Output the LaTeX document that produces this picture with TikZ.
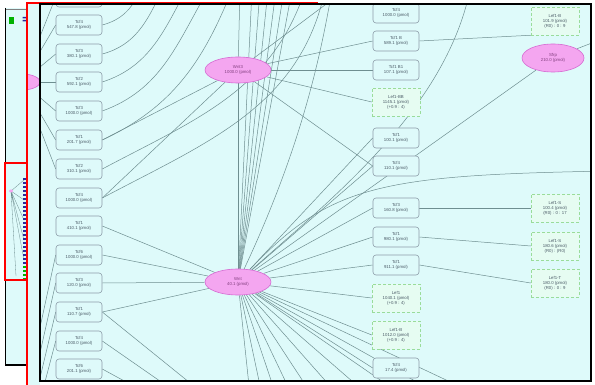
\documentclass[tikz,border=0pt]{standalone}
\usepackage{fontspec}
\setmainfont{Liberation Sans}
\usetikzlibrary{shapes.geometric}
\definecolor{bgc}{HTML}{DEFAFA}
\definecolor{boxc}{HTML}{8C9CA8}
\definecolor{edgec}{HTML}{6E8E90}
\definecolor{pinkf}{HTML}{F4A6F0}
\definecolor{pinkd}{HTML}{D66AD2}
\definecolor{grnd}{HTML}{9ADC9A}
\definecolor{grnf}{HTML}{E6FCF2}
\definecolor{txtc}{HTML}{4A5A66}
\definecolor{mapb}{HTML}{2A2A9A}
\pgfdeclarelayer{bg}
\pgfsetlayers{bg,main}
\begin{document}
\begin{tikzpicture}[x=1pt,y=-1pt,
 tbox/.style={draw=boxc, fill=bgc, rounded corners=3pt, minimum width=46pt, minimum height=20pt, inner sep=0.5pt, align=center, font=\fontsize{4.3}{4.9}\selectfont, text=txtc, line width=0.6pt},
 gbox/.style={draw=grnd, fill=grnf, densely dashed, minimum width=48pt, minimum height=28pt, inner sep=0.5pt, align=center, font=\fontsize{4.3}{4.9}\selectfont, text=txtc, line width=0.5pt},
 ell/.style={ellipse, draw=pinkd, fill=pinkf, minimum width=66pt, minimum height=26pt, inner sep=0pt, align=center, font=\fontsize{4.3}{4.9}\selectfont, text=pinkd!60!black, line width=0.6pt},
 lnk/.style={draw=edgec, line width=0.5pt}]
\useasboundingbox (0,0) rectangle (595,385);
% ---------- nodes (clipped to the main view)
\begin{scope}
\clip (40,4) rectangle (591,381);
\node[tbox] (L0) at (79,-3) {};
\node[tbox] (L1) at (79,25) {Tcf4\\547.8 (pmol)};
\node[tbox] (L2) at (79,54) {Tcf3\\380.1 (pmol)};
\node[tbox] (L3) at (79,82) {Tcf2\\592.1 (pmol)};
\node[tbox] (L4) at (79,111) {Tcf3\\1000.0 (pmol)};
\node[tbox] (L5) at (79,140) {Tcf1\\201.7 (pmol)};
\node[tbox] (L6) at (79,169) {Tcf2\\310.1 (pmol)};
\node[tbox] (L7) at (79,198) {Tcf4\\1000.0 (pmol)};
\node[tbox] (L8) at (79,226) {Tcf1\\410.1 (pmol)};
\node[tbox] (L9) at (79,255) {Tcf6\\1000.0 (pmol)};
\node[tbox] (L10) at (79,283) {Tcf3\\120.0 (pmol)};
\node[tbox] (L11) at (79,312) {Tcf1\\110.7 (pmol)};
\node[tbox] (L12) at (79,341) {Tcf4\\1000.0 (pmol)};
\node[tbox] (L13) at (79,369) {Tcf6\\201.1 (pmol)};
\node[ell] (E1) at (238,70) {Wnt3\\1000.0 (pmol)};
\node[ell] (E2) at (238,282) {Wnt\\40.1 (pmol)};
\node[ell, minimum width=62pt, minimum height=28pt] (E3) at (553,58) {Sfrp\\210.0 (pmol)};
\node[tbox] (M0) at (396,13) {Tcf4\\1000.0 (pmol)};
\node[tbox] (M1) at (396,41) {Tcf1 B\\589.1 (pmol)};
\node[tbox] (M2) at (396,70) {Tcf1 B1\\107.1 (pmol)};
\node[gbox] (M3) at (396,102) {Lef1-BB\\1145.1 (pmol)\\(+0.9 : 4)};
\node[tbox] (M4) at (396,138) {Tcf1\\100.1 (pmol)};
\node[tbox] (M5) at (396,166) {Tcf4\\110.1 (pmol)};
\node[tbox] (M6) at (396,208) {Tcf3\\160.8 (pmol)};
\node[tbox] (M7) at (396,237) {Tcf1\\980.1 (pmol)};
\node[tbox] (M8) at (396,265) {Tcf1\\911.1 (pmol)};
\node[gbox] (M9) at (396,298) {Lef1\\1040.1 (pmol)\\(+0.9 : 4)};
\node[gbox] (M10) at (396,335) {Lef1-B\\1012.0 (pmol)\\(+0.9 : 4)};
\node[tbox] (M11) at (396,368) {Tcf4\\17.4 (pmol)};
\node[gbox] (G0) at (555,21) {Lef1-B\\101.9 (pmol)\\(R0) : 0 : 9};
\node[gbox] (G1) at (555,208) {Lef1-S\\100.4 (pmol)\\(R0) : 0 : 17};
\node[gbox] (G2) at (555,246) {Lef1-S\\180.6 (pmol)\\(R0) : (R0)};
\node[gbox] (G3) at (555,283) {Lef1-T\\180.0 (pmol)\\(R0) : 0 : 9};
\end{scope}
% ---------- background and connectors
\begin{pgfonlayer}{bg}
\fill[white] (0,0) rectangle (595,385);
\fill[bgc] (6,8) rectangle (27,365);
\fill[bgc] (27,3) rectangle (40,385);
\fill[bgc] (40,4) rectangle (591,381);
\begin{scope}
\clip (40,4) rectangle (591,381);
\coordinate (pinkL) at (22,82);
% arcs from the upper left boxes towards the top
\draw[lnk] (L0.east) to[out=10,in=-110] (118,-10);
\draw[lnk] (L1.east) to[out=15,in=-112] (140,-10);
\draw[lnk] (L2.east) to[out=15,in=-115] (162,-10);
\draw[lnk] (L3.east) to[out=18,in=-118] (186,-10);
\draw[lnk] (L4.east) to[out=20,in=-120] (208,-10);
\draw[lnk] (L5.east) to[out=25,in=-112] (232,-10);
\draw[lnk] (L6.east) to[out=28,in=-108] (305,-10);
\draw[lnk] (L7.east) to[out=28,in=-102] (325,-10);
% left side links to the off-view node
\foreach \n in {L0,L1,L2,L3,L4,L5,L6} \draw[lnk] (\n.west) -- (pinkL);
\draw[lnk] (L9.west) -- (20,420);
\draw[lnk] (L10.west) -- (25,420);
\draw[lnk] (L11.west) -- (30,420);
\draw[lnk] (L12.west) -- (35,420);
% lower left boxes down-right
\draw[lnk] (L11.east) -- (205,395);
\draw[lnk] (L12.east) -- (180,395);
\draw[lnk] (L13.east) -- (150,395);
% E1
\draw[lnk] (E1) -- (M1.west);
\draw[lnk] (E1) -- (M2.west);
\draw[lnk] (E1) -- (M3.west);
\draw[lnk] (E1) -- (240,-10);
\draw[lnk] (E1) -- (345,-10);
\draw[lnk] (E1) -- (M5.west);
\draw[lnk] (E1) -- (L5.east);
\draw[lnk] (E1) -- (L7.east);
\draw[lnk] (E1) -- (E2);
% E2 to left
\foreach \n in {L8,L9,L10,L11} \draw[lnk] (E2) -- (\n.east);
% E2 to middle column
\foreach \n in {M4,M5,M6,M7,M8,M9,M10,M11} \draw[lnk] (E2) -- (\n.west);
% E2 down to below the view
\foreach \x in {250,262,276,292,312,338,368,402,440,478} \draw[lnk] (E2) -- (\x,395);
% E2 up to above the view
\foreach \x in {252,260,268,276,284,292} \draw[lnk] (E2) -- (\x,-10);
\draw[lnk] (E2) .. controls (300,150) and (320,60) .. (332,-10);
\draw[lnk] (E2) .. controls (330,200) and (445,110) .. (470,-10);
\draw[lnk] (E2) .. controls (330,185) and (380,175) .. (610,171);
% E3
\draw[lnk] (E3) -- (E2);
\draw[lnk] (E3) -- (610,36);
% middle to right
\draw[lnk] (M1.east) -- (G0.south west);
\draw[lnk] (M6.east) -- (G1.west);
\draw[lnk] (M7.east) -- (G2.west);
\draw[lnk] (M8.east) -- (G3.west);
\end{scope}
% minimap contents
\draw[lnk, line width=0.3pt] (11,191) -- (24,180) (11,191) -- (24,200) (11,191) -- (24,220) (11,191) -- (24,240) (11,191) -- (24,260) (11,191) -- (16,276);
\end{pgfonlayer}
% partial off-view node at the left
\begin{scope}
\clip (27.8,3) rectangle (40,385);
\node[ell, minimum width=36pt, minimum height=16pt] at (22,82) {};
\end{scope}
% minimap markers
\fill[green!70!black] (8.5,17) rectangle (14,24);
\fill[mapb] (22.5,17) rectangle (26.5,18.5) (22.5,20) rectangle (26.5,21.5);
\draw[gray, line width=0.6pt] (5,9) -- (27,9);
\fill[pinkf] (11,191) ellipse (2pt and 1.5pt);
\foreach \y in {178,182,...,278} \fill[mapb] (23,\y) rectangle (25.5,\y+2);
\foreach \y in {266,270,274,278} \fill[green!70!black] (23,\y) rectangle (25.5,\y+2);
% frames
\draw[line width=1.3pt] (5.5,8) -- (5.5,365) -- (27,365);
\draw[red, line width=1.3pt] (5,163) rectangle (27,280);
\draw[red, line width=1.3pt] (318,3) -- (27,3) -- (27,385);
\draw[line width=2pt] (40,4) rectangle (591,381);
\end{tikzpicture}
\end{document}
